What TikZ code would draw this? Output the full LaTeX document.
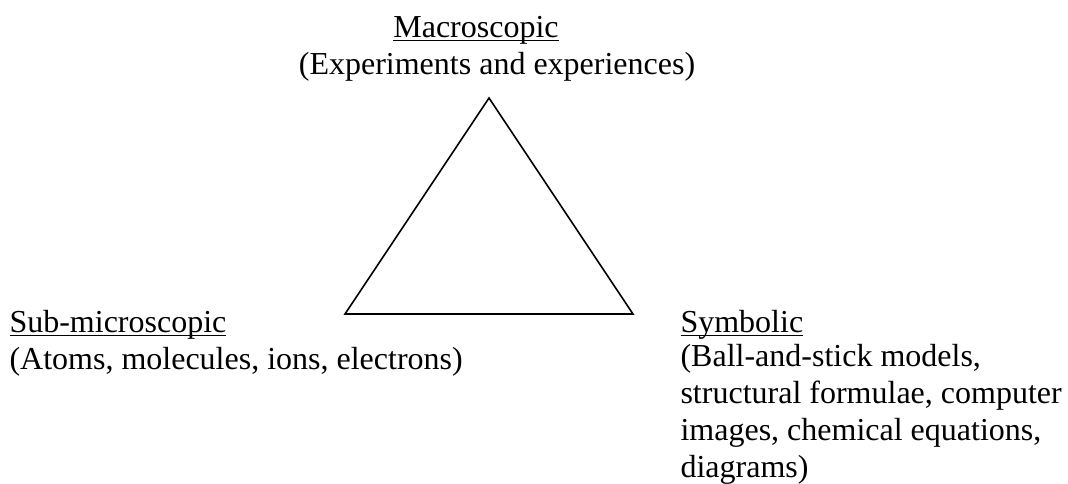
\documentclass[tikz,border=0pt]{standalone}
\usepackage{fontspec}
\setmainfont{Liberation Serif}
\usetikzlibrary{positioning}

\newlength{\ullen}
\newcommand{\ulword}[1]{\settowidth{\ullen}{#1}\rlap{\rule[-0.13em]{\ullen}{0.05em}}#1}

\begin{document}
\begin{tikzpicture}[x=0.375pt, y=-0.375pt,
  txt/.style={inner sep=0pt, font=\fontsize{12}{13.8}\selectfont},
  heading/.style={txt, anchor=base},
  desc/.style={txt, align=left, anchor=base west},
  tri/.style={line width=0.6pt, line join=miter}
]
  \useasboundingbox (0,0) rectangle (1068,483);

  % Corners
  \coordinate (apex) at (489,98);
  \coordinate (lcorner) at (345,314);
  \coordinate (rcorner) at (633,314);

  % Labels (desc nodes sit on the baseline of their last line)
  \node[heading] (macro) at (476,37) {\ulword{Macroscopic}};
  \node[heading] (macrodesc) at (497,74) {(Experiments and experiences)};
  \node[heading, anchor=base west] (micro) at (9,332) {\ulword{Sub-microscopic}};
  \node[desc] (microdesc) at (9,369) {(Atoms, molecules, ions, electrons)};
  \node[heading, anchor=base west] (symb) at (680,332) {\ulword{Symbolic}};
  \node[desc] (symbdesc) at (680,477) {(Ball-and-stick models,\\
    structural formulae, computer\\ images, chemical equations,\\ diagrams)};

  % Triangle
  \draw[tri] (apex) -- (lcorner) -- (rcorner) -- cycle;
\end{tikzpicture}
\end{document}
